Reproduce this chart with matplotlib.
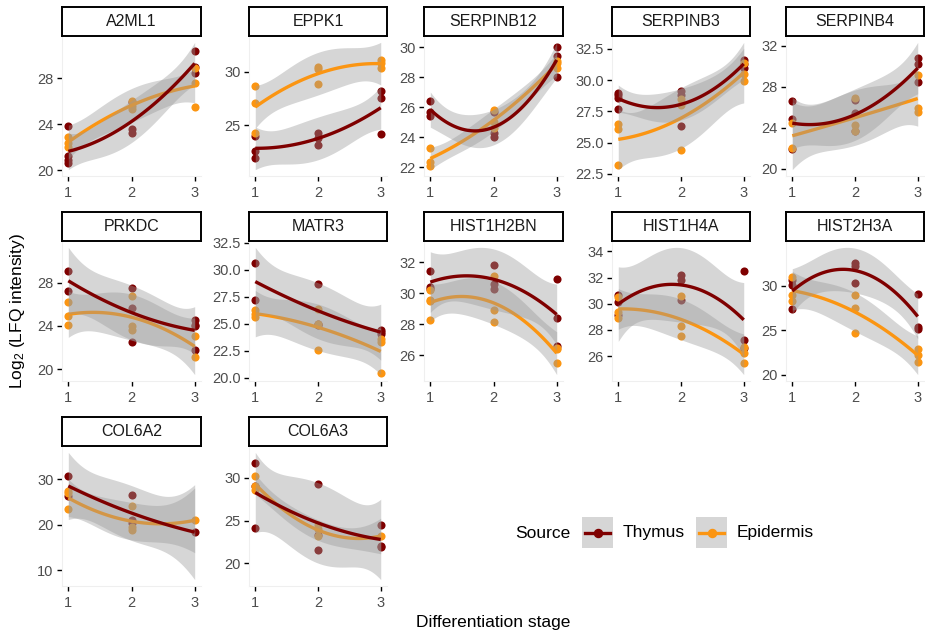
import numpy as np
import matplotlib
matplotlib.use('Agg')
import matplotlib.pyplot as plt
from matplotlib.patches import Rectangle
from matplotlib.lines import Line2D

plt.rcParams['font.family'] = ['Liberation Sans', 'DejaVu Sans']
plt.rcParams['mathtext.fontset'] = 'custom'
plt.rcParams['mathtext.rm'] = 'Liberation Sans'
plt.rcParams['mathtext.it'] = 'Liberation Sans:italic'
plt.rcParams['mathtext.bf'] = 'Liberation Sans:bold'

# stages 1, 2, 3 -> replicate values
STAGES = [1, 2, 3]
SOURCES = ['Thymus', 'Epidermis']
COLORS = {'Thymus': '#7F0000', 'Epidermis': '#FB9512'}

GENES = ['A2ML1', 'EPPK1', 'SERPINB12', 'SERPINB3', 'SERPINB4',
         'PRKDC', 'MATR3', 'HIST1H2BN', 'HIST1H4A', 'HIST2H3A',
         'COL6A2', 'COL6A3']

A2ML1_THY = [[23.8, 21.2, 20.9, 20.6], [25.9, 23.6, 23.2], [30.4, 29.0, 28.5]]
A2ML1_EPI = [[22.9, 22.4, 22.0], [26.0, 25.6, 25.3], [28.9, 27.6, 25.5]]
EPPK1_THY = [[24.0, 22.6, 22.0], [24.3, 23.85, 23.2], [28.2, 27.5, 24.2]]
EPPK1_EPI = [[28.7, 27.1, 24.3], [30.4, 30.2, 28.8], [31.1, 30.8, 30.3]]
SERPINB12_THY = [[26.4, 25.7, 25.45], [25.7, 24.3, 24.0], [30.0, 29.45, 28.05]]
SERPINB12_EPI = [[23.3, 22.35, 22.1], [25.8, 25.0, 24.6], [29.1, 28.95, 28.6]]
SERPINB3_THY = [[29.0, 28.8, 28.6, 27.7], [29.1, 28.8, 26.3], [31.6, 31.3, 31.0]]
SERPINB3_EPI = [[26.5, 26.1, 23.2], [28.5, 28.0, 24.4], [31.4, 30.5, 29.9]]
SERPINB4_THY = [[26.6, 24.8, 21.9], [26.7, 25.4, 23.7], [30.8, 30.2, 28.4]]
SERPINB4_EPI = [[24.4, 22.0], [26.9, 24.3, 23.7], [29.1, 25.9, 25.5]]
PRKDC_THY = [[29.1, 27.25], [27.5, 25.7, 22.5], [24.5, 24.1, 24.0, 21.75]]
PRKDC_EPI = [[26.2, 24.9, 24.1], [26.8, 24.0, 23.6], [23.1, 21.1]]
MATR3_THY = [[30.6, 27.2], [28.7, 25.0, 24.9], [24.4, 24.2, 24.05]]
MATR3_EPI = [[26.3, 25.9, 25.6], [26.4, 25.0, 22.6], [23.6, 23.3, 20.4]]
HIST1H2BN_THY = [[31.46, 30.44, 30.27], [31.85, 30.6, 30.27], [30.9, 28.4, 26.6]]
HIST1H2BN_EPI = [[30.2, 29.6, 29.5, 28.3], [31.1, 28.9, 28.15], [26.5, 26.4, 25.5]]
HIST1H4A_THY = [[30.7, 30.1, 29.1], [32.2, 31.8, 30.3], [32.5, 27.2, 26.6]]
HIST1H4A_EPI = [[30.5, 29.4, 28.9], [30.6, 28.3, 27.5], [26.7, 26.2, 25.5]]
HIST2H3A_THY = [[30.66, 30.1, 27.4], [32.6, 32.2, 30.3], [29.1, 25.4, 25.1]]
HIST2H3A_EPI = [[31.0, 29.0, 28.3], [28.9, 27.5, 24.7], [22.9, 22.2, 21.4]]
COL6A2_THY = [[30.7, 26.4], [26.5, 21.0, 20.3], [18.4]]
COL6A2_EPI = [[27.5, 26.9, 23.4], [24.1, 19.5, 18.8], [21.0]]
COL6A3_THY = [[31.7, 29.0, 24.15], [29.3, 23.3, 21.6], [24.5, 22.0, 21.9]]
COL6A3_EPI = [[30.2, 29.0, 28.6], [24.5, 24.0, 23.2], [23.2]]

YTICKS = {
    'A2ML1': [20, 24, 28], 'EPPK1': [25, 30], 'SERPINB12': [22, 24, 26, 28, 30],
    'SERPINB3': [22.5, 25.0, 27.5, 30.0, 32.5], 'SERPINB4': [20, 24, 28, 32],
    'PRKDC': [20, 24, 28, 32], 'MATR3': [20.0, 22.5, 25.0, 27.5, 30.0, 32.5],
    'HIST1H2BN': [26, 28, 30, 32], 'HIST1H4A': [24, 26, 28, 30, 32, 34],
    'HIST2H3A': [20, 25, 30], 'COL6A2': [10, 20, 30], 'COL6A3': [20, 25, 30],
}

data = {}
for g in GENES:
    data[(g, 'Thymus')] = globals()[g + '_THY']
    data[(g, 'Epidermis')] = globals()[g + '_EPI']

# t quantiles (0.975) for the confidence band
T975 = {1: 12.706, 2: 4.303, 3: 3.182, 4: 2.776, 5: 2.571, 6: 2.447,
        7: 2.365, 8: 2.306, 9: 2.262, 10: 2.228, 11: 2.201, 12: 2.179}


def quad_fit(xs, ys, grid):
    """lm(y ~ poly(x, 2)) with 95% band, like geom_smooth"""
    X = np.column_stack([np.ones_like(xs), xs, xs ** 2])
    beta, *_ = np.linalg.lstsq(X, ys, rcond=None)
    resid = ys - X @ beta
    dof = len(ys) - 3
    s2 = resid @ resid / dof
    xtx_inv = np.linalg.inv(X.T @ X)
    G = np.column_stack([np.ones_like(grid), grid, grid ** 2])
    fit = G @ beta
    se = np.sqrt(s2 * np.einsum('ij,jk,ik->i', G, xtx_inv, G))
    return fit, fit - T975[dof] * se, fit + T975[dof] * se


def flatten(groups):
    xs, vs = [], []
    for st, vals in zip(STAGES, groups):
        xs += [st] * len(vals)
        vs += vals
    return np.array(xs, float), np.array(vs, float)


W, H = 925, 633
fig = plt.figure(figsize=(W / 100, H / 100), dpi=100)

COL_X = [(62, 201), (249, 387), (424, 563), (612, 750), (786, 924)]
ROW_Y = [(7, 36, 176), (212, 241, 381), (417, 446, 586)]


def fig_rect(x0, x1, y0, y1):
    return [x0 / W, 1 - y1 / H, (x1 - x0) / W, (y1 - y0) / H]


grid = np.linspace(1, 3, 80)
for i, g in enumerate(GENES):
    r, c = divmod(i, 5)
    x0, x1 = COL_X[c]
    ys, yp, yb = ROW_Y[r]
    ax = fig.add_axes(fig_rect(x0, x1, yp, yb))

    for src in SOURCES:
        xs, vs = flatten(data[(g, src)])
        ax.scatter(xs, vs, s=34, color=COLORS[src], lw=0, zorder=2)

    for src in ['Epidermis', 'Thymus']:
        xs, vs = flatten(data[(g, src)])
        fit, lo, hi = quad_fit(xs, vs, grid)
        ax.fill_between(grid, lo, hi, color='#999999', alpha=0.4, lw=0, zorder=3)
        ax.plot(grid, fit, color=COLORS[src], lw=2.4, zorder=3,
                solid_capstyle='butt')

    ax.set_xlim(0.9, 3.1)
    ax.margins(y=0.05)
    ax.autoscale_view()
    lo_y, hi_y = ax.get_ylim()
    ticks = [t for t in YTICKS[g] if lo_y <= t <= hi_y]
    ax.set_yticks(ticks)
    if any(t % 1 for t in YTICKS[g]):
        ax.set_yticklabels(['%.1f' % t for t in ticks])
    else:
        ax.set_yticklabels(['%d' % t for t in ticks])
    ax.set_ylim(lo_y, hi_y)
    ax.set_xticks(STAGES)
    ax.tick_params(length=3.5, width=1.0, color='black', labelcolor='#4D4D4D',
                   labelsize=10.5, pad=2.5)
    ax.tick_params(axis='x', pad=4)
    for side in ['top', 'right']:
        ax.spines[side].set_visible(False)
    for side in ['left', 'bottom']:
        ax.spines[side].set_color('#EFEFEF')
        ax.spines[side].set_linewidth(0.8)

    # strip
    sax = fig.add_axes(fig_rect(x0, x1, ys, yp))
    sax.set_xticks([])
    sax.set_yticks([])
    for sp in sax.spines.values():
        sp.set_linewidth(1.4)
        sp.set_color('black')
    sax.text(0.5, 0.5, g, ha='center', va='center', fontsize=11.5,
             color='#1A1A1A', transform=sax.transAxes)

fig.text(18 / W, 1 - 311 / H, 'Log$_2$ (LFQ intensity)', rotation=90,
         ha='center', va='center', fontsize=12.5)
fig.text(493 / W, 1 - 622 / H, 'Differentiation stage', ha='center',
         va='center', fontsize=12.5)

# legend
fig.text(515 / W, 1 - 533 / H, 'Source', ha='left', va='center', fontsize=12.5)
for src, kx, tx in [('Thymus', 582, 623), ('Epidermis', 696, 737)]:
    fig.add_artist(Rectangle((kx / W, 1 - 548 / H), 31 / W, 31 / H,
                             transform=fig.transFigure, facecolor='#D6D6D6',
                             edgecolor='none'))
    fig.add_artist(Line2D([(kx + 3) / W, (kx + 28) / W], [1 - 533 / H] * 2,
                          transform=fig.transFigure, color=COLORS[src], lw=2.4))
    fig.add_artist(Line2D([(kx + 15.5) / W], [1 - 533 / H],
                          transform=fig.transFigure, color=COLORS[src],
                          marker='o', markersize=5.8, lw=0))
    fig.text(tx / W, 1 - 533 / H, src, ha='left', va='center', fontsize=12.5)

fig.savefig('out.png', dpi=100)
